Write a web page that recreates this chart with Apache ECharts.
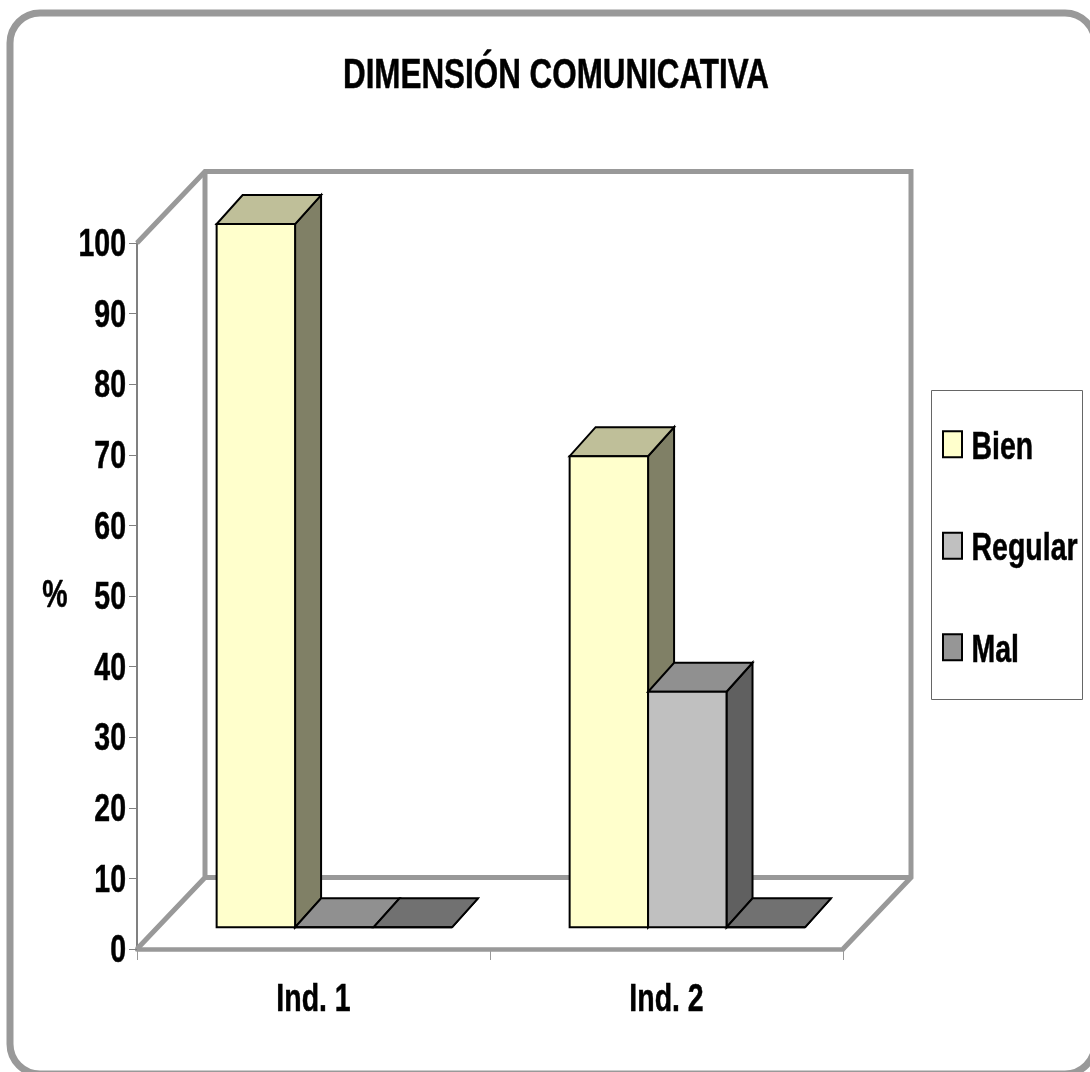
<!DOCTYPE html>
<html>
<head>
<meta charset="utf-8">
<title>Dimensión comunicativa</title>
<style>
  html, body { margin: 0; padding: 0; background: #fff; }
  #chart { width: 1090px; height: 1072px; }
</style>
<script src="https://cdn.jsdelivr.net/npm/echarts@6/dist/echarts.min.js"></script>
</head>
<body>
<div id="chart"></div>
<script>
// Percentages per indicator
const categories = ['Ind. 1', 'Ind. 2'];
const bien = [100, 67];
const regular = [0, 33.5];
const mal = [0, 0];

const seriesNames = ['Bien', 'Regular', 'Mal'];
const seriesColors = ['#FFFFCC', '#C0C0C0', '#969696'];

const chartTitle = 'DIMENSIÓN COMUNICATIVA';
const valueAxisName = '%';

// Oblique projection used for the box and for the bars inside it
const WALL_DX = 68, WALL_DY = 71.5;
const BAR_DX = 26, BAR_DY = 29;
const FRONT_DX = 20.8, FRONT_DY = 21.7;
const BAR_SCALE = 0.996;
const BARS_PER_BAND = 4.5;
const WALL_COLOR = '#999999';
const FONT = '"Liberation Sans", Arial, sans-serif';
const TEXT_SQUEEZE = 0.73;
const LEGEND_SQUEEZE = 0.75;
const TICK_LABEL_DROP = 2.5;
const LEGEND_LABEL_DROP = 4;
const HEAVY = { textBorderColor: '#000', textBorderWidth: 0.5 };

function shade(hex, k) {
  const n = parseInt(hex.slice(1), 16);
  const c = [n >> 16, (n >> 8) & 255, n & 255].map(v => Math.round(v * k));
  return 'rgb(' + c.join(',') + ')';
}

// Back wall, left wall and floor of the box
function renderWalls(params, api) {
  const origin = api.coord([0, 0]);
  const top = api.coord([0, 100]);
  const band = api.size([1, 0])[0];
  const x0 = origin[0] - band / 2;
  const x1 = x0 + band * categories.length;
  const y0 = origin[1], y1 = top[1];
  const line = pts => ({
    type: 'polyline',
    shape: { points: pts },
    style: { fill: 'none', stroke: WALL_COLOR, lineWidth: 5, lineJoin: 'miter' }
  });
  return {
    type: 'group',
    children: [
      line([[x0, y1], [x0 + WALL_DX, y1 - WALL_DY], [x1 + WALL_DX, y1 - WALL_DY],
            [x1 + WALL_DX, y0 - WALL_DY], [x1, y0]]),
      line([[x0, y0], [x0 + WALL_DX, y0 - WALL_DY], [x0 + WALL_DX, y1 - WALL_DY]]),
      line([[x0 + WALL_DX, y0 - WALL_DY], [x1 + WALL_DX, y0 - WALL_DY]])
    ]
  };
}

// One box-shaped bar: side and top faces in darker shades of the front colour
function barRenderer(slot) {
  return function (params, api) {
    const cat = api.value(0);
    const zero = api.coord([cat, 0]);
    const tip = api.coord([cat, api.value(1)]);
    const w = api.size([1, 0])[0] / BARS_PER_BAND;
    const color = seriesColors[slot];
    const x0 = zero[0] + FRONT_DX + (slot - 1.5) * w;
    const x1 = x0 + w;
    const yb = zero[1] - FRONT_DY;
    const yt = yb - (zero[1] - tip[1]) * BAR_SCALE;
    const face = (pts, fill) => ({
      type: 'polygon',
      shape: { points: pts },
      style: { fill: fill, stroke: '#000', lineWidth: 2, lineJoin: 'miter' }
    });
    return {
      type: 'group',
      children: [
        face([[x1, yb], [x1 + BAR_DX, yb - BAR_DY], [x1 + BAR_DX, yt - BAR_DY], [x1, yt]], shade(color, 0.5)),
        face([[x0, yt], [x1, yt], [x1 + BAR_DX, yt - BAR_DY], [x0 + BAR_DX, yt - BAR_DY]], shade(color, 0.75)),
        face([[x0, yb], [x1, yb], [x1, yt], [x0, yt]], color)
      ]
    };
  };
}

function barSeries(slot, values) {
  return {
    type: 'custom',
    name: seriesNames[slot],
    coordinateSystem: 'cartesian2d',
    renderItem: barRenderer(slot),
    encode: { x: 0, y: 1 },
    itemStyle: { color: seriesColors[slot] },
    data: values.map((v, i) => [i, v]),
    z: 3 + slot
  };
}

const chart = echarts.init(document.getElementById('chart'));
chart.setOption({
  animation: false,
  backgroundColor: '#fff',
  title: {
    text: chartTitle,
    left: 551,
    top: 50,
    textAlign: 'center',
    textStyle: Object.assign({ fontFamily: FONT, fontWeight: 'bold', fontSize: 43, color: '#000' }, HEAVY)
  },
  grid: { left: 137, top: 243, width: 706, height: 706, containLabel: false },
  legend: {
    orient: 'vertical',
    left: 937,
    top: 420,
    padding: 5,
    itemWidth: 19,
    itemHeight: 26,
    itemGap: 63,
    icon: 'rect',
    selectedMode: false,
    itemStyle: { borderColor: '#000', borderWidth: 2 },
    textStyle: Object.assign({ fontFamily: FONT, fontWeight: 'bold', fontSize: 38, color: '#000', padding: [5, 0, 0, 14] }, HEAVY),
    data: seriesNames
  },
  xAxis: {
    type: 'category',
    data: categories,
    axisLine: { lineStyle: { color: WALL_COLOR, width: 4.5 } },
    axisTick: { show: true, length: 11, lineStyle: { color: WALL_COLOR, width: 1 } },
    axisLabel: Object.assign({ margin: 32, fontFamily: FONT, fontWeight: 'bold', fontSize: 39, color: '#000' }, HEAVY),
    splitLine: { show: false }
  },
  yAxis: {
    type: 'value',
    min: 0,
    max: 100,
    interval: 10,
    name: valueAxisName,
    nameLocation: 'middle',
    nameGap: 82,
    nameMoveOverlap: false,
    nameRotate: 0,
    nameTextStyle: Object.assign({ fontFamily: FONT, fontWeight: 'bold', fontSize: 39, color: '#000', align: 'center', verticalAlign: 'middle' }, HEAVY),
    axisLine: { show: true, lineStyle: { color: '#808080', width: 2 } },
    axisTick: { show: true, length: 8, lineStyle: { color: '#808080', width: 1 } },
    axisLabel: Object.assign({ margin: 11, fontFamily: FONT, fontWeight: 'bold', fontSize: 39, color: '#000' }, HEAVY),
    splitLine: { show: false }
  },
  graphic: [
    {
      type: 'rect',
      silent: true,
      z: -10,
      shape: { x: 10, y: 13, width: 1085, height: 1061, r: 30 },
      style: { fill: '#fff', stroke: WALL_COLOR, lineWidth: 7 }
    },
    {
      type: 'rect',
      silent: true,
      z: 1,
      shape: { x: 931.5, y: 390.5, width: 151, height: 309 },
      style: { fill: '#fff', stroke: '#666', lineWidth: 1 }
    }
  ],
  series: [
    {
      type: 'custom',
      name: 'walls',
      coordinateSystem: 'cartesian2d',
      renderItem: renderWalls,
      silent: true,
      encode: { x: 0, y: 1 },
      data: [[0, 0]],
      z: 1
    },
    barSeries(0, bien),
    barSeries(1, regular),
    barSeries(2, mal)
  ]
});

// All labels are set in a condensed cut of the face
chart.getZr().storage.traverse(function (el) {
  if (el.type === 'text' && el.style && el.style.text) {
    const label = el.style.text;
    const inLegend = seriesNames.includes(label);
    el.scaleX = inLegend ? LEGEND_SQUEEZE : TEXT_SQUEEZE;
    if (inLegend) el.y += LEGEND_LABEL_DROP;
    if (/^\d+$/.test(label)) el.y += TICK_LABEL_DROP;
    el.markRedraw();
  }
});
chart.getZr().refresh();
</script>
</body>
</html>
